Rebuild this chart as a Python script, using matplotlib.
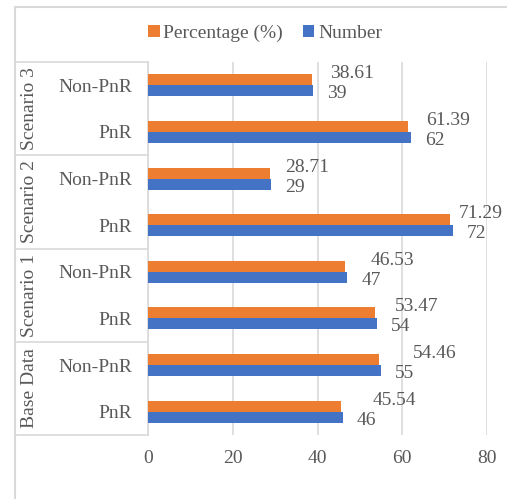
import numpy as np
import matplotlib.pyplot as plt
from matplotlib.patches import Rectangle
from matplotlib.lines import Line2D

plt.rcParams['font.family'] = ['Liberation Serif', 'DejaVu Serif']
plt.rcParams['font.size'] = 14

# bottom to top
categories = ["PnR", "Non-PnR", "PnR", "Non-PnR", "PnR", "Non-PnR", "PnR", "Non-PnR"]
groups = ["Base Data", "Scenario 1", "Scenario 2", "Scenario 3"]
percentage = [45.54, 54.46, 53.47, 46.53, 71.29, 28.71, 61.39, 38.61]
number = [46, 55, 54, 47, 72, 29, 62, 39]
xticks = [0, 20, 40, 60, 80]

# horizontal nudges (px) of the percentage labels
pct_dx = [32, 34, 20, 25, 9, 15, 18, 18]

ORANGE = "#ED7D31"
BLUE = "#4472C4"
GRID = "#D9D9D9"
TEXT = "#595959"

W, H = 507, 499
fig = plt.figure(figsize=(W / 100, H / 100), dpi=100)
ax = fig.add_axes([148 / W, 1 - 435 / H, (487 - 148) / W, (435 - 62) / H])

y = np.arange(len(categories))
h = 0.236
ax.barh(y + h / 2, percentage, height=h, color=ORANGE, label="Percentage (%)", zorder=3)
ax.barh(y - h / 2, number, height=h, color=BLUE, label="Number", zorder=3)

for i in range(len(categories)):
    ax.annotate(f"{percentage[i]:.2f}", (percentage[i], y[i] + h / 2),
                xytext=(pct_dx[i] * 0.72, 6 * 0.72), textcoords="offset points",
                ha="left", va="center", color=TEXT)
    ax.annotate(f"{number[i]}", (number[i], y[i] - h / 2),
                xytext=(14 * 0.72, -3 * 0.72), textcoords="offset points",
                ha="left", va="center", color=TEXT)

ax.set_xlim(0, 80)
ax.set_ylim(-0.5, len(categories) - 0.5)
ax.set_xticks(xticks)
ax.set_yticks(y)
ax.set_yticklabels(categories)
ax.tick_params(axis="x", length=0, pad=11, colors=TEXT)
ax.tick_params(axis="y", length=0, pad=11.5, colors=TEXT)
ax.grid(axis="x", color=GRID, lw=1.2, zorder=0)
for s in ["top", "right", "bottom"]:
    ax.spines[s].set_visible(False)
ax.spines["left"].set_color(GRID)
ax.spines["left"].set_linewidth(1.2)

# multi-level category boxes
tr = ax.get_yaxis_transform()
x_left = (15 - 148) / (487 - 148)
for b in np.arange(-0.5, len(categories), 2):
    ax.add_line(Line2D([x_left, 0], [b, b], transform=tr, color=GRID, lw=1.2, clip_on=False))
for k, g in enumerate(groups):
    ax.text((30 - 148) / (487 - 148), 2 * k + 0.5, g, transform=tr, rotation=90,
            ha="center", va="center", color=TEXT)

# chart frame
fig.patches.append(Rectangle((15 / W, -0.1), 1, 1.1 - 7 / H, transform=fig.transFigure,
                             fill=False, edgecolor=GRID, lw=1.5))

fig.legend(loc="center", bbox_to_anchor=(265 / W, 1 - 33 / H), ncol=2, frameon=False,
           handlelength=0.6, handleheight=0.6, handletextpad=0.2, columnspacing=1.0,
           labelcolor=TEXT)

fig.savefig("out.png", dpi=100)
